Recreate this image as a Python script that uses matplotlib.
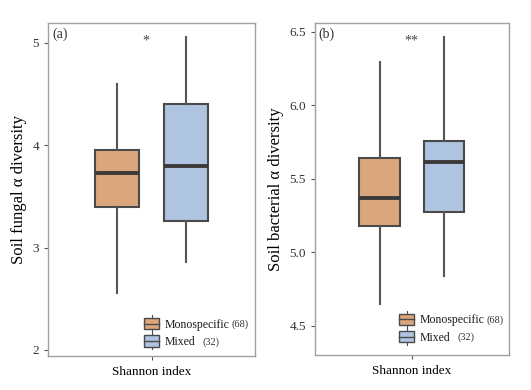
import matplotlib
matplotlib.use("Agg")
import matplotlib.pyplot as plt
from matplotlib.legend_handler import HandlerBase
from matplotlib.patches import Rectangle
from matplotlib.lines import Line2D

plt.rcParams["font.family"] = ["Liberation Serif", "DejaVu Serif"]

# five-number summaries: low whisker, Q1, median, Q3, high whisker
groups = ["Monospecific", "Mixed"]
counts = ["(68)", "(32)"]
fungal_mono = [2.56, 3.40, 3.73, 3.95, 4.60]
fungal_mixed = [2.86, 3.26, 3.80, 4.40, 5.06]
bact_mono = [4.65, 5.175, 5.365, 5.64, 6.29]
bact_mixed = [4.84, 5.27, 5.615, 5.757, 6.46]

colors = ["#DCA67C", "#AFC4E0"]
edge = "#4a4a4a"


def stats(vals, label):
    lo, q1, med, q3, hi = vals
    return {"whislo": lo, "q1": q1, "med": med, "q3": q3, "whishi": hi,
            "fliers": [], "label": label}


class BoxHandler(HandlerBase):
    def __init__(self, color):
        super().__init__()
        self.color = color

    def create_artists(self, legend, orig_handle, xdescent, ydescent,
                       width, height, fontsize, trans):
        w = width * 0.8
        x0 = (width - w) / 2 - xdescent
        h = height * 0.9
        y0 = -ydescent + (height - h) / 2
        box = Rectangle((x0, y0), w, h, facecolor=self.color,
                        edgecolor=edge, lw=1.0, transform=trans)
        mid = Line2D([x0, x0 + w], [y0 + h / 2] * 2, color=edge, lw=1.0,
                     transform=trans)
        xc = x0 + w / 2
        top = Line2D([xc, xc], [y0 + h, y0 + h + 2], color=edge, lw=0.8,
                     transform=trans)
        bot = Line2D([xc, xc], [y0 - 2, y0], color=edge, lw=0.8,
                     transform=trans)
        return [box, mid, top, bot]


def panel(ax, mono, mixed, ylim, yticks, yticklabels, ylabel, tag, star,
          star_x, leg_anchor):
    bp = ax.bxp([stats(mono, groups[0]), stats(mixed, groups[1])],
                positions=[-0.333, 0.333], widths=0.42, patch_artist=True,
                showcaps=False, showfliers=False,
                boxprops=dict(edgecolor=edge, linewidth=1.5),
                whiskerprops=dict(color="#555555", linewidth=1.5),
                medianprops=dict(color="#3a3a3a", linewidth=2.8))
    for patch, c in zip(bp["boxes"], colors):
        patch.set_facecolor(c)
    ax.set_xlim(-1, 1)
    ax.set_ylim(*ylim)
    ax.set_yticks(yticks)
    ax.set_yticklabels(yticklabels, fontsize=9.5)
    ax.set_xticks([0])
    ax.set_xticklabels([""])
    ax.set_xlabel("Shannon index", fontsize=9.5, labelpad=1)
    ax.set_ylabel(ylabel, fontsize=12, labelpad=4)
    for s in ax.spines.values():
        s.set_color("#a0a0a0")
        s.set_linewidth(1.0)
    ax.tick_params(axis="both", color="#555555", length=3, width=0.8,
                   labelcolor="#333333")
    ax.text(0.02, 0.985, tag, transform=ax.transAxes, ha="left", va="top",
            fontsize=10, color="#333333")
    ax.text(star_x, 0.945, star, transform=ax.get_xaxis_transform(),
            ha="center", va="center", fontsize=10, color="#444444")
    h1 = Rectangle((0, 0), 1, 1)
    h2 = Rectangle((0, 0), 1, 1)
    leg = ax.legend([h1, h2], groups,
                    handler_map={h1: BoxHandler(colors[0]), h2: BoxHandler(colors[1])},
                    loc="lower right", bbox_to_anchor=leg_anchor,
                    borderaxespad=0, frameon=False, fontsize=8.5,
                    handlelength=1.6, handleheight=1.25, handletextpad=0.3,
                    labelspacing=0.35)
    gaps = [1.5, 5]
    for txt, n, g in zip(leg.get_texts(), counts, gaps):
        txt.set_color("#1a1a1a")
        # counts drawn after the legend so they can follow its text
        ax.annotate(n, xy=(1, 0.5), xycoords=txt, xytext=(g, 0),
                    textcoords="offset points", ha="left", va="center",
                    fontsize=7.5, color="#333333", zorder=10)


fig = plt.figure(figsize=(5.31, 3.9), dpi=100)
ax1 = fig.add_axes([0.0904, 0.0872, 0.390, 0.855])
ax2 = fig.add_axes([0.593, 0.0897, 0.365, 0.852])

panel(ax1, fungal_mono, fungal_mixed, (1.94, 5.198), [2, 3, 4, 5],
      ["2", "3", "4", "5"], "Soil fungal α diversity", "(a)", "*", -0.06,
      (0.90, 0.01))
panel(ax2, bact_mono, bact_mixed, (4.30, 6.56), [4.5, 5.0, 5.5, 6.0, 6.5],
      ["4.5", "5.0", "5.5", "6.0", "6.5"], "Soil bacterial α diversity",
      "(b)", "**", 0.0, (0.90, 0.02))

fig.savefig("out.png", dpi=100)
